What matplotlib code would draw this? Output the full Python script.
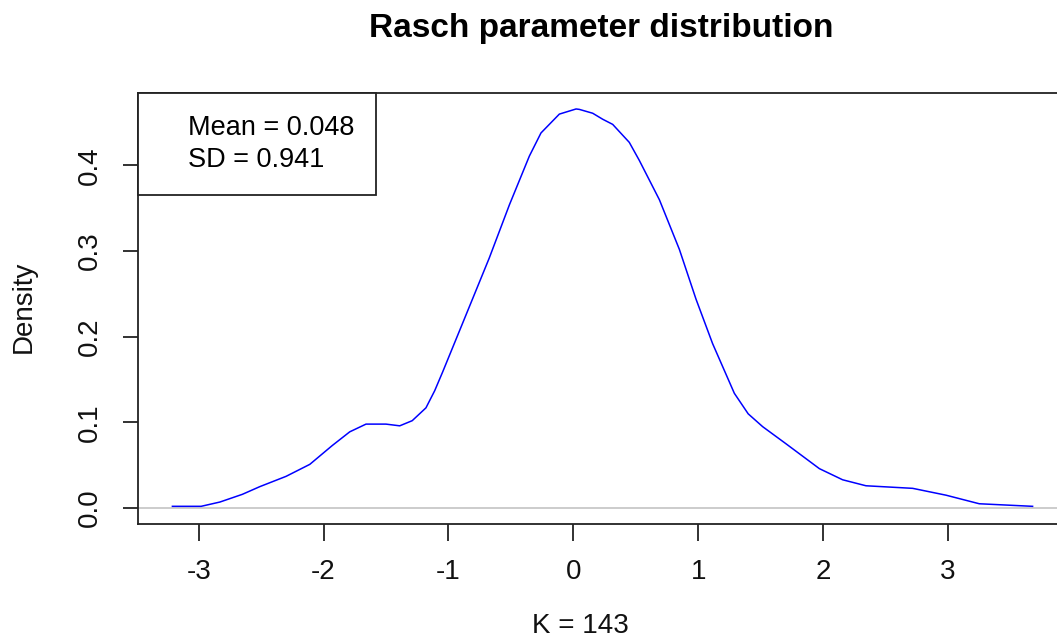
import numpy as np
import matplotlib
matplotlib.use("Agg")
import matplotlib.pyplot as plt
from matplotlib.lines import Line2D

plt.rcParams["font.family"] = ["Liberation Sans", "DejaVu Sans"]

# kernel density of the Rasch parameters
grid = [-3.21, -2.98, -2.83, -2.65, -2.51, -2.30, -2.11, -1.93, -1.79, -1.66,
        -1.50, -1.39, -1.29, -1.18, -1.11, -1.046, -0.886, -0.673, -0.512,
        -0.352, -0.259, -0.112, 0.022, 0.048, 0.155, 0.235, 0.315, 0.448,
        0.528, 0.689, 0.849, 0.982, 1.115, 1.289, 1.40, 1.516, 1.703, 1.97,
        2.156, 2.343, 2.717, 2.984, 3.25, 3.677]
density = [0.002, 0.002, 0.007, 0.016, 0.025, 0.037, 0.051, 0.073, 0.089,
           0.098, 0.098, 0.096, 0.102, 0.117, 0.137, 0.159, 0.216, 0.292,
           0.354, 0.411, 0.438, 0.460, 0.466, 0.4655, 0.461, 0.454, 0.448,
           0.427, 0.406, 0.360, 0.302, 0.244, 0.192, 0.134, 0.110, 0.095,
           0.075, 0.046, 0.033, 0.026, 0.023, 0.015, 0.005, 0.002]

stats_labels = ["Mean = 0.048", "SD = 0.941"]
title = "Rasch parameter distribution"
xlab = "K = 143"
x_ticks = [-3, -2, -1, 0, 1, 2, 3]
y_ticks = [0.0, 0.1, 0.2, 0.3, 0.4]

fs = 20

fig = plt.figure(figsize=(10.57, 6.39), dpi=100)
ax = fig.add_axes([138 / 1057, 115 / 639, 929 / 1057, 431 / 639])

ax.axhline(0, color="#BEBEBE", lw=1.1, zorder=1)
ax.plot(grid, density, color="blue", lw=1.1, zorder=2)

# R-style 4% padding around the data range
xr = max(grid) - min(grid)
ax.set_xlim(min(grid) - 0.04 * xr, max(grid) + 0.04 * xr)
yr = max(density)
ax.set_ylim(-0.04 * yr, yr * 1.04)

ax.set_xticks(x_ticks)
ax.set_xticklabels([str(t) for t in x_ticks])
ax.set_yticks(y_ticks)
ax.set_yticklabels([f"{t:.1f}" for t in y_ticks], rotation=90, va="center")
ax.tick_params(axis="x", direction="out", length=12, width=1.3,
               labelsize=fs, pad=13, colors="#222222", labelcolor="#111111")
ax.tick_params(axis="y", direction="out", length=11, width=1.3,
               labelsize=fs, pad=14, colors="#222222", labelcolor="#111111")
for sp in ax.spines.values():
    sp.set_linewidth(1.3)
    sp.set_color("#222222")

blank = [Line2D([], [], linestyle="none") for _ in stats_labels]
leg = ax.legend(blank, stats_labels, loc="upper left", borderaxespad=0,
                fancybox=False, framealpha=1, edgecolor="#222222",
                fontsize=19.5, borderpad=0.8, labelspacing=0.25,
                handlelength=0.85, handletextpad=0.2, handleheight=0.5)
leg.get_frame().set_linewidth(1.3)

fig.text(601 / 1057, 1 - 37 / 639, title, ha="center", va="baseline",
         fontsize=24, fontweight="bold")
fig.text(580 / 1057, 1 - 633 / 639, xlab, ha="center", va="baseline",
         fontsize=fs, color="#111111")
fig.text(24 / 1057, 1 - 307 / 639, "Density", ha="center", va="center",
         rotation=90, fontsize=fs, color="#111111")

fig.savefig("out.png", dpi=100, facecolor="white")
